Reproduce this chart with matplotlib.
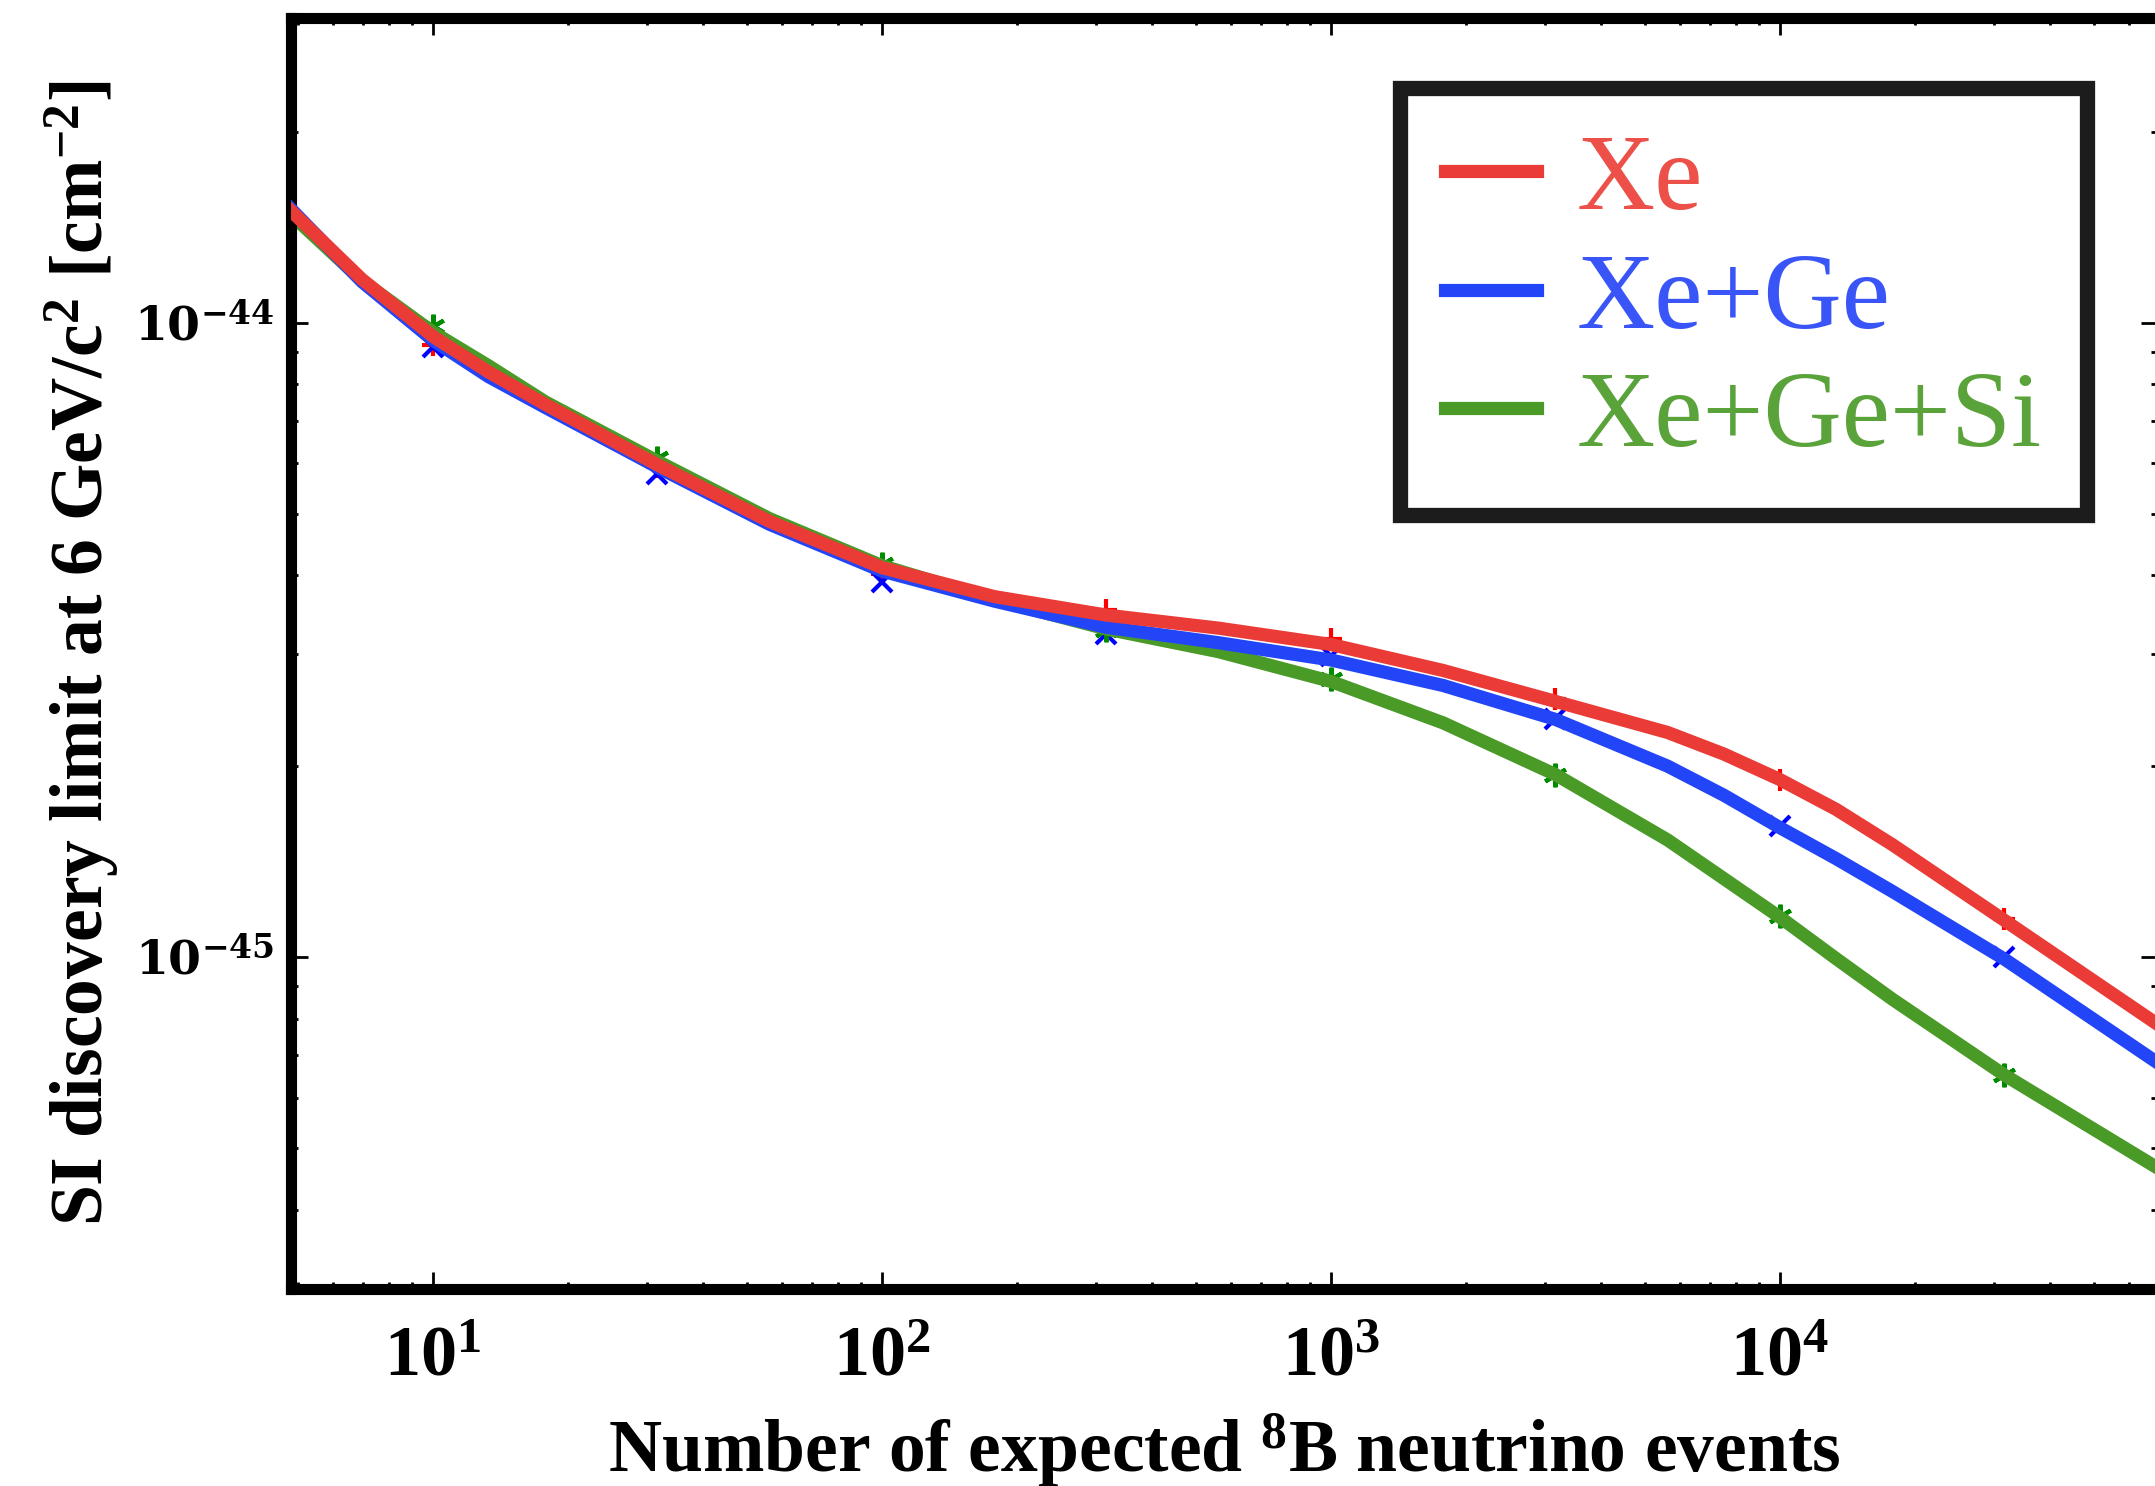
import matplotlib.pyplot as plt
from matplotlib.lines import Line2D
from matplotlib.ticker import NullFormatter

plt.rcParams['font.family'] = 'Liberation Serif'
plt.rcParams['mathtext.fontset'] = 'custom'
plt.rcParams['mathtext.rm'] = 'Liberation Serif:bold'
plt.rcParams['mathtext.bf'] = 'Liberation Serif:bold'
plt.rcParams['mathtext.it'] = 'Liberation Serif:italic:bold'

# curves
n_events = [4.83, 6.95, 10, 13.3, 17.8, 31.6, 56.2, 100, 178, 316, 562, 1000,
            1778, 3162, 5623, 7499, 10000, 13335, 17783, 31623, 69500]
limit_xe = [1.50e-44, 1.17e-44, 9.51e-45, 8.36e-45, 7.43e-45, 5.97e-45, 4.86e-45,
            4.11e-45, 3.70e-45, 3.46e-45, 3.30e-45, 3.11e-45, 2.83e-45, 2.53e-45,
            2.26e-45, 2.09e-45, 1.905e-45, 1.71e-45, 1.505e-45, 1.143e-45, 7.83e-46]
limit_xege = [1.51e-44, 1.16e-44, 9.38e-45, 8.22e-45, 7.35e-45, 5.92e-45, 4.81e-45,
              4.06e-45, 3.64e-45, 3.31e-45, 3.13e-45, 2.94e-45, 2.68e-45, 2.37e-45,
              2.00e-45, 1.80e-45, 1.60e-45, 1.43e-45, 1.27e-45, 9.93e-46, 6.81e-46]
limit_xegesi = [1.48e-44, 1.165e-44, 9.66e-45, 8.55e-45, 7.50e-45, 6.05e-45, 4.91e-45,
                4.14e-45, 3.66e-45, 3.29e-45, 3.03e-45, 2.72e-45, 2.34e-45, 1.94e-45,
                1.53e-45, 1.33e-45, 1.156e-45, 9.95e-46, 8.59e-46, 6.52e-46, 4.65e-46]

# computed points (markers)
pts_events = [10, 31.6, 100, 316, 1000, 3162, 10000, 31623]
pts_xe = [9.23e-45, 5.92e-45, 4.01e-45, 3.53e-45, 3.17e-45, 2.55e-45, 1.90e-45, 1.15e-45]
pts_xege = [9.16e-45, 5.77e-45, 3.90e-45, 3.23e-45, 2.98e-45, 2.37e-45, 1.61e-45, 1.00e-45]
pts_xegesi = [9.86e-45, 6.12e-45, 4.16e-45, 3.28e-45, 2.74e-45, 1.94e-45, 1.16e-45, 6.52e-46]

labels = ['Xe', 'Xe+Ge', 'Xe+Ge+Si']
line_colors = ['#ea3b36', '#2345f8', '#4a9a28']
text_colors = ['#ec5048', '#3a55f7', '#5aa33a']

fig = plt.figure(figsize=(21.55, 14.86), dpi=100)
ax = fig.add_axes([291 / 2155, 197 / 1486, 1867 / 2155, 1271 / 1486])
ax.set_xscale('log')
ax.set_yscale('log')

# markers under the lines
ax.plot(pts_events, pts_xe, ls='none', marker='+', ms=16, mew=3, color='#ff0000', zorder=1)
ax.plot(pts_events, pts_xege, ls='none', marker='x', ms=15, mew=3, color='#0000ff', zorder=1)
ax.plot(pts_events, pts_xegesi, ls='none', marker=(6, 2, 0), ms=17, mew=3, color='#008c00', zorder=1)

ax.plot(n_events, limit_xegesi, color=line_colors[2], lw=9.5, solid_joinstyle='round', zorder=2)
ax.plot(n_events, limit_xege, color=line_colors[1], lw=9.5, solid_joinstyle='round', zorder=3)
ax.plot(n_events, limit_xe, color=line_colors[0], lw=9.5, solid_joinstyle='round', zorder=4)

ax.set_xlim(4.83, 6.95e4)
ax.set_ylim(3.0e-46, 3.02e-44)

for sp in ax.spines.values():
    sp.set_linewidth(8)

ax.tick_params(which='both', direction='in', top=True, right=True, width=2)
ax.tick_params(which='major', length=12)
ax.tick_params(which='minor', length=5)
ax.tick_params(axis='x', which='major', pad=26)
ax.tick_params(axis='y', which='major', pad=12)

ax.set_xticks([10, 100, 1000, 10000],
              labels=[r'$\mathbf{10^{1}}$', r'$\mathbf{10^{2}}$', r'$\mathbf{10^{3}}$', r'$\mathbf{10^{4}}$'],
              fontsize=52)
ax.set_yticks([1e-45, 1e-44],
              labels=[r'$\mathbf{10^{-45}}$', r'$\mathbf{10^{-44}}$'],
              fontsize=34, math_fontfamily='dejavuserif')
ax.xaxis.set_minor_formatter(NullFormatter())
ax.yaxis.set_minor_formatter(NullFormatter())

ax.set_xlabel(r'Number of expected $^{\mathbf{8}}$B neutrino events', fontsize=53,
              fontweight='bold', va='baseline')
ax.xaxis.set_label_coords(0.5, -0.144)
ax.set_ylabel(r'SI discovery limit at 6 GeV/c$^{\mathbf{2}}$ [cm$^{\mathbf{-2}}$]', fontsize=53,
              fontweight='bold', va='baseline')
ax.yaxis.set_label_coords(-0.1007, 0.5)

handles = [Line2D([], [], color=c, lw=9.5) for c in line_colors]
leg = ax.legend(handles, labels, loc='upper right', bbox_to_anchor=(2087 / 2155, 1 - 88 / 1486),
                bbox_transform=fig.transFigure, borderaxespad=0, fontsize=78,
                handlelength=0.85, handletextpad=0.36, borderpad=0.42, labelspacing=0.18,
                fancybox=False, framealpha=1, edgecolor='#1c1c1c')
leg.get_frame().set_linewidth(11)
for txt, c in zip(leg.get_texts(), text_colors):
    txt.set_color(c)

fig.savefig('out.png', dpi=100)
